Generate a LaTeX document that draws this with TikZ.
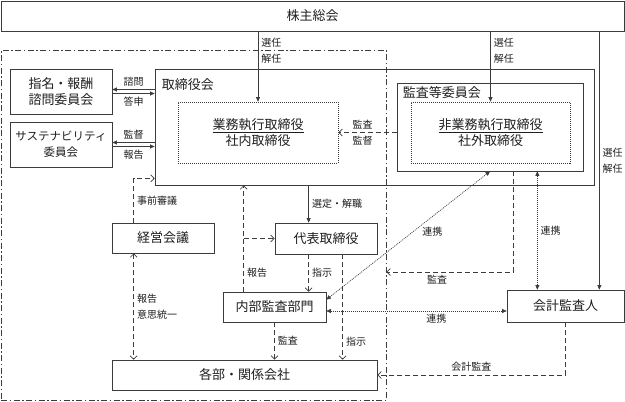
\documentclass[tikz,border=0pt]{standalone}
\usepackage{fontspec}
\setmainfont{Noto Sans CJK JP}
\usepackage{tikz}
\usetikzlibrary{arrows.meta}
\definecolor{linegray}{RGB}{60,60,60}
\definecolor{textgray}{RGB}{30,30,30}
\newcommand{\widthside}{102pt}
\newcommand{\heightrow}{30pt}
\tikzset{
    common/.style={draw=linegray, line width=0.7pt, rectangle, inner sep=0pt, align=center, text=textgray, font=\fontsize{13}{16}\selectfont},
    box/.style={common, minimum height=\heightrow},
    innerbox/.style={common, dash pattern=on 1pt off 1pt},
    groupframe/.style={draw=linegray, line width=0.7pt, dash pattern=on 6pt off 2.5pt on 1.5pt off 2.5pt, inner sep=0pt},
    boxtitle/.style={anchor=west, inner sep=0pt, text=textgray, font=\fontsize{13}{16}\selectfont},
    txt/.style={inner sep=3pt, align=left, text=textgray, font=\fontsize{10}{16}\selectfont},
    fullhead/.tip={Triangle[length=4.5pt,width=4pt]},
    openhead/.tip={Straight Barb[length=3.5pt,width=7pt]},
    rel-solid/.style={draw=linegray, line width=0.7pt, -fullhead},
    rel-dashed/.style={draw=linegray, line width=0.7pt, dash pattern=on 5pt off 3pt, -openhead},
    rel-dashed-both/.style={rel-dashed, openhead-openhead},
    rel-dotted/.style={draw=linegray, line width=0.7pt, dash pattern=on 1pt off 1pt, fullhead-fullhead}
}
\begin{document}
\begin{tikzpicture}[x=1pt, y=-1pt]
\useasboundingbox (0,0) rectangle (625,402);

\node[box, minimum width=623pt] (shareholders) at (312.5,16) {株主総会};
\node[groupframe, minimum width=385pt, minimum height=350pt] (group) at (193.5,225) {};

\node[common, minimum width=439pt, minimum height=116pt] (board) at (374.5,127) {};
\node[boxtitle] (boardtitle) at ([xshift=7pt,yshift=-16pt]board.north west) {取締役会};
\node[innerbox, minimum width=160pt, minimum height=61pt] (exec) at (258,132.5) {\underline{業務執行取締役}\\社内取締役};
\node[common, minimum width=186pt, minimum height=88pt] (kansa) at (490,127) {};
\node[boxtitle] (kansatitle) at ([xshift=6pt,yshift=-10pt]kansa.north west) {監査等委員会};
\node[innerbox, minimum width=159pt, minimum height=61pt] (nonexec) at (490.5,132.5) {\underline{非業務執行取締役}\\社外取締役};

\node[common, minimum width=\widthside, minimum height=45pt] (nomination) at (61,91.5) {指名・報酬\\諮問委員会};
\node[common, minimum width=\widthside, minimum height=45pt, font=\fontsize{11.5}{16}\selectfont] (sustain) at (61,144.5) {サステナビリティ\\委員会};

\node[box, minimum width=\widthside] (mgmt) at (163,238) {経営会議};
\node[box, minimum width=\widthside, minimum height=31pt] (president) at (326,238.5) {代表取締役};
\node[box, minimum width=103pt] (internal) at (274.5,307) {内部監査部門};
\node[box, minimum width=265pt] (depts) at (244.5,375) {各部・関係会社};
\node[box, minimum width=117pt, minimum height=32pt] (accountant) at (565.5,306) {会計監査人};

\draw[rel-solid] (shareholders.south -| exec) -- node[txt, right, pos=0.27] {選任\\解任} (exec.north);
\draw[rel-solid] (shareholders.south -| nonexec) -- node[txt, right, pos=0.27] {選任\\解任} (nonexec.north);
\coordinate (accsel) at ([xshift=-25pt]shareholders.south east);
\draw[rel-solid] (accsel) -- node[txt, right] {選任\\解任} (accsel |- accountant.north);

\draw[rel-solid] ([yshift=2pt]board.west |- nomination.east) -- node[txt, above] {諮問} ([yshift=2pt]nomination.east);
\draw[rel-solid] ([yshift=-2pt]nomination.east) -- node[txt, below] {答申} ([yshift=-2pt]board.west |- nomination.east);
\draw[rel-solid] ([yshift=2pt]board.west |- sustain.east) -- node[txt, above] {監督} ([yshift=2pt]sustain.east);
\draw[rel-solid] ([yshift=-2pt]sustain.east) -- node[txt, below] {報告} ([yshift=-2pt]board.west |- sustain.east);

\draw[rel-dashed] ([xshift=22pt]mgmt.north west) |- node[txt, right, pos=0.25] {事前審議} ([yshift=7pt]board.south west);
\draw[rel-dashed-both] ([xshift=22pt]mgmt.south west) -- node[txt, right] {報告\\意思統一} ([xshift=22pt]depts.north west);

\coordinate (reportx) at ([xshift=21pt]internal.north west);
\draw[rel-dashed] (reportx) -- node[txt, right, pos=0.18] {報告} (reportx |- board.south);
\draw[rel-dashed] (reportx |- president.west) -- (president.west);

\coordinate (selectx) at ([xshift=34pt]president.north west);
\draw[rel-solid] (selectx |- board.south) -- node[txt, right] {選定・解職} (selectx);
\draw[rel-dashed] (selectx |- president.south) -- node[txt, right] {指示} (selectx |- internal.north);
\coordinate (orderx) at ([xshift=68pt]president.south west);
\draw[rel-dashed] (orderx) -- node[txt, right, pos=0.83] {指示} (orderx |- depts.north);
\draw[rel-dashed] (internal.south) -- node[txt, right] {監査} (internal.south |- depts.north);

\draw[rel-dashed] (kansa.west |- exec.east) -- node[txt, above, xshift=-5pt] {監査} node[txt, below, xshift=-5pt] {監督} (exec.east);
\draw[rel-dashed] ([xshift=23pt]kansa.south) |- node[txt, below, pos=0.8] {監査} ([yshift=-47pt]group.east);

\draw[rel-dotted] ([yshift=-8pt]internal.north east) -- node[txt, right=6pt, pos=0.53] {連携} (kansa.south);
\coordinate (linkx) at ([xshift=-46pt]kansa.south east);
\draw[rel-dotted] (linkx) -- node[txt, right] {連携} (linkx |- accountant.north);
\draw[rel-dotted] ([yshift=-4pt]internal.east) -- node[txt, below, pos=0.61] {連携} ([yshift=-4pt]internal.east -| accountant.west);

\draw[rel-dashed] (accountant.south) |- node[txt, above, pos=0.75] {会計監査} (depts.east);
\end{tikzpicture}
\end{document}
